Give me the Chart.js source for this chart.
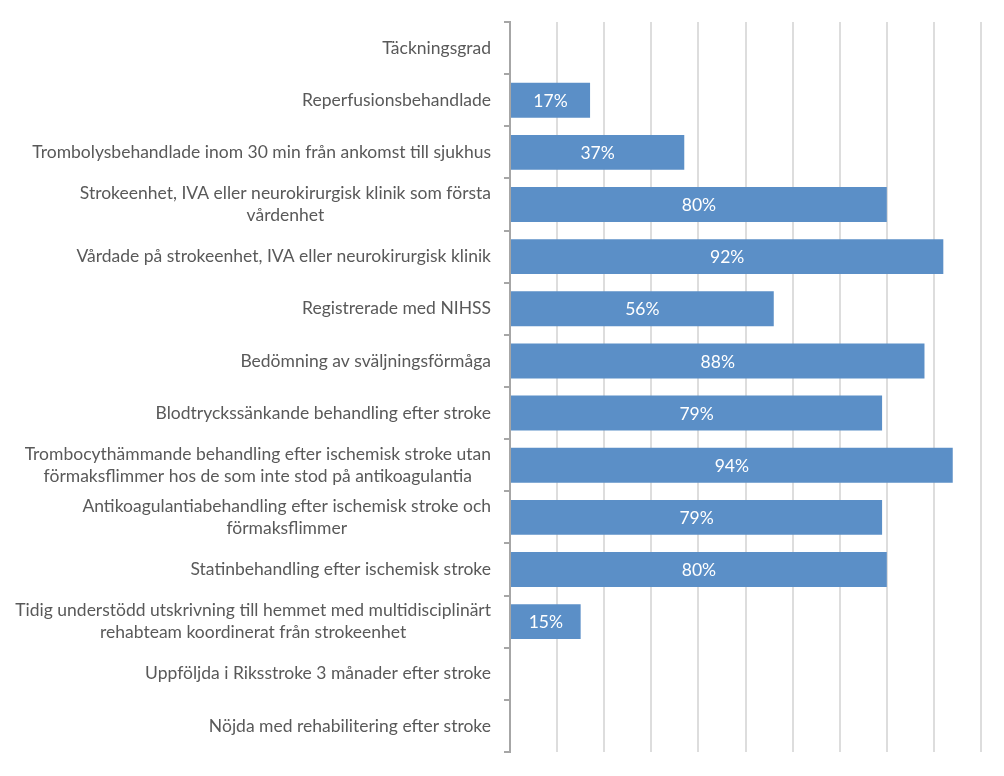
<!DOCTYPE html>
<html>
<head>
<meta charset="utf-8">
<script src="https://cdn.jsdelivr.net/npm/chart.js@4"></script>
<style>
  html, body { margin: 0; padding: 0; background: #fff; }
  #wrap { width: 1004px; height: 776px; }
</style>
</head>
<body>
<div id="wrap"><canvas id="chart" width="1004" height="776"></canvas></div>
<script>
// kategorier (radbrytningar som i originalet)
const categories = [
  ['Täckningsgrad'],
  ['Reperfusionsbehandlade'],
  ['Trombolysbehandlade inom 30 min från ankomst till sjukhus'],
  ['Strokeenhet, IVA eller neurokirurgisk klinik som första', 'vårdenhet'],
  ['Vårdade på strokeenhet, IVA eller neurokirurgisk klinik'],
  ['Registrerade med NIHSS'],
  ['Bedömning av sväljningsförmåga'],
  ['Blodtryckssänkande behandling efter stroke'],
  ['Trombocythämmande behandling efter ischemisk stroke utan', 'förmaksflimmer hos de som inte stod på antikoagulantia'],
  ['Antikoagulantiabehandling efter ischemisk stroke och', 'förmaksflimmer'],
  ['Statinbehandling efter ischemisk stroke'],
  ['Tidig understödd utskrivning till hemmet med multidisciplinärt', 'rehabteam koordinerat från strokeenhet'],
  ['Uppföljda i Riksstroke 3 månader efter stroke'],
  ['Nöjda med rehabilitering efter stroke']
];
const values = [null, 17, 37, 80, 92, 56, 88, 79, 94, 79, 80, 15, null, null];

const FONT = 'Lato, "Open Sans", sans-serif';

// egna etiketter: blocket högerjusterat, raderna centrerade inom blocket
const labelPlugin = {
  id: 'catLabels',
  afterDraw(chart) {
    const ctx = chart.ctx;
    const y = chart.scales.y;
    const right = 491;
    const lineH = 22;
    ctx.save();
    ctx.font = '17.5px ' + FONT;
    ctx.fillStyle = '#595959';
    ctx.textBaseline = 'middle';
    ctx.textAlign = 'center';
    categories.forEach((lines, i) => {
      const cy = y.getPixelForTick(i);
      const w = Math.max(...lines.map(l => ctx.measureText(l).width));
      const cx = right - w / 2;
      const y0 = cy - (lines.length - 1) * lineH / 2;
      lines.forEach((l, j) => ctx.fillText(l, cx, y0 + j * lineH));
    });

    // värden i staplarna
    ctx.fillStyle = '#ffffff';
    const meta = chart.getDatasetMeta(0);
    meta.data.forEach((bar, i) => {
      if (values[i] == null) return;
      const p = bar.getProps(['x', 'y', 'base'], true);
      ctx.fillText(values[i] + '%', (p.x + p.base) / 2, p.y + 1);
    });
    ctx.restore();
  }
};

new Chart(document.getElementById('chart').getContext('2d'), {
  type: 'bar',
  data: {
    labels: categories.map(c => c.join(' ')),
    datasets: [{
      data: values,
      backgroundColor: '#5b8fc7',
      borderWidth: 0,
      categoryPercentage: 1,
      barPercentage: 0.67
    }]
  },
  options: {
    indexAxis: 'y',
    responsive: false,
    animation: false,
    layout: { padding: { top: 22, right: 23, bottom: 24, left: 0 } },
    plugins: { legend: { display: false }, tooltip: { enabled: false } },
    scales: {
      x: {
        min: 0, max: 100,
        ticks: { display: false, stepSize: 10 },
        grid: { color: '#dddddd', lineWidth: 2, drawTicks: false },
        border: { display: false }
      },
      y: {
        ticks: { display: false },
        grid: { drawOnChartArea: false, color: '#a6a6a6', lineWidth: 2, tickLength: 6, offset: true },
        border: { color: '#a6a6a6', width: 2 },
        afterFit(scale) { scale.width = 510; }
      }
    }
  },
  plugins: [labelPlugin]
});
</script>
</body>
</html>
